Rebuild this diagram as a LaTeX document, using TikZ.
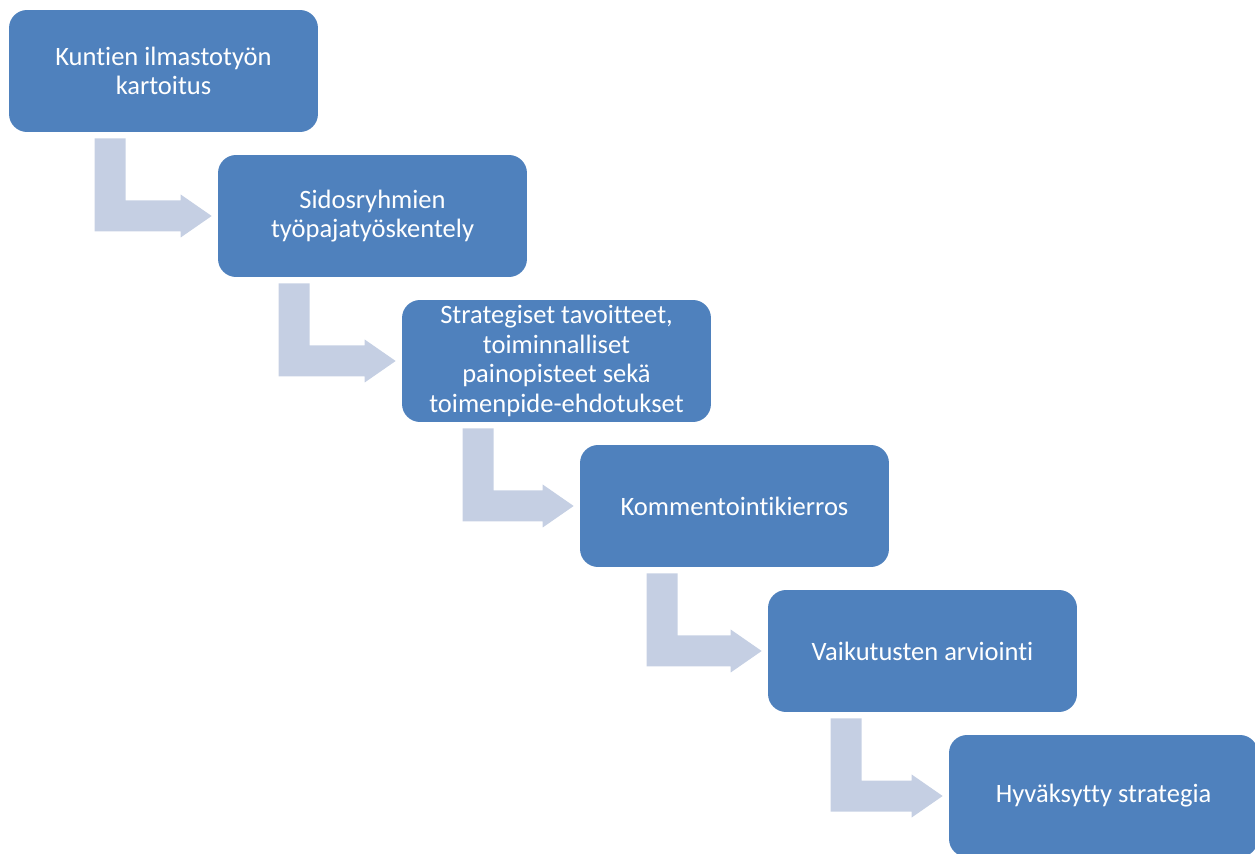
\documentclass[tikz,border=0pt]{standalone}
\usepackage{fontspec}
\setmainfont{Carlito}[Ligatures=NoCommon]
\usetikzlibrary{calc,positioning}

\definecolor{boxblue}{HTML}{4F81BD}
\definecolor{arrowgrey}{HTML}{C5CFE3}

% bent arrow from the bottom of one box into the side of the next
\newcommand{\bentarrow}[3]{%
  \fill[arrowgrey] ($(#1.south west)+(#3,6)$) coordinate (top#1)
    -- ++(31,0)
    -- ($(top#1 |- #2.west)+(31,-15.5)$)
    -- ($(#2.west)+(-37,-15.5)$)
    -- ($(#2.west)+(-37,-21.5)$)
    -- ($(#2.west)+(-6,0)$)
    -- ($(#2.west)+(-37,21.5)$)
    -- ($(#2.west)+(-37,15.5)$)
    -- ($(top#1 |- #2.west)+(0,15.5)$)
    -- cycle;}

\begin{document}
\begin{tikzpicture}[x=0.02cm,y=-0.02cm,
    stepbox/.style={rectangle,rounded corners=0.36cm,fill=boxblue,
      minimum width=6.18cm,minimum height=2.44cm,align=center,
      text=white,font=\fontsize{15.1}{16.9}\selectfont,inner sep=0pt}]
  \useasboundingbox (0,0) rectangle (1255,854);
  \node[stepbox] (kartoitus) at (163.5,71) {Kuntien ilmastotyön\\kartoitus};
  \node[stepbox] (tyopaja) at (372.5,216) {Sidosryhmien\\työpajatyöskentely};
  \node[stepbox] (tavoitteet) at (556.5,361)
    {Strategiset tavoitteet,\\toiminnalliset\\painopisteet sekä\\toimenpide-ehdotukset};
  \node[stepbox] (kommentointi) at (734.5,506) {Kommentointikierros};
  \node[stepbox] (arviointi) at (922.5,651) {Vaikutusten arviointi};
  \node[stepbox] (strategia) at (1103.5,796) {Hyväksytty strategia};
  % arrows between the steps
  \bentarrow{kartoitus}{tyopaja}{86}
  \bentarrow{tyopaja}{tavoitteet}{61}
  \bentarrow{tavoitteet}{kommentointi}{61}
  \bentarrow{kommentointi}{arviointi}{67}
  \bentarrow{arviointi}{strategia}{63}
\end{tikzpicture}
\end{document}
